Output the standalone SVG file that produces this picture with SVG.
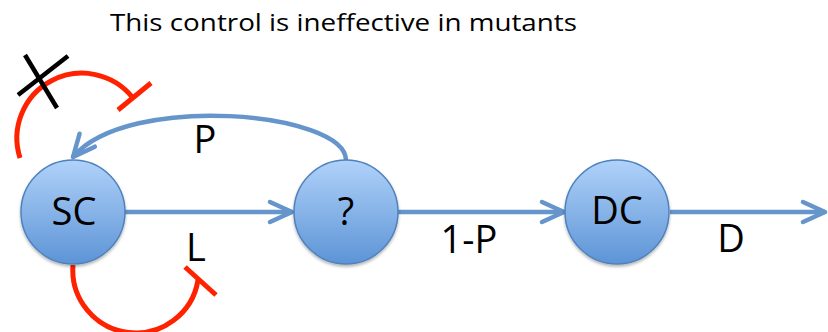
<svg xmlns="http://www.w3.org/2000/svg" width="828" height="332" viewBox="0 0 828 332">
  <style>
    .txt { font-family: "Open Sans", "Liberation Sans", sans-serif; fill: #000; }
    .lbl { font-size: 38px; text-anchor: middle; }
    .node circle { fill: url(#nodeFill); stroke: #4f82bd; stroke-width: 1.5; filter: url(#soft); }
    .flow { fill: none; stroke: #6595cb; stroke-width: 4.5; }
    .inhib { fill: none; stroke: #ff2200; stroke-width: 5; }
    .cross { stroke: #000; stroke-width: 4.5; }
  </style>
  <defs>
    <linearGradient id="nodeFill" x1="0" y1="0" x2="0" y2="1">
      <stop offset="0" stop-color="#b0d2fa"/>
      <stop offset="1" stop-color="#5d94d6"/>
    </linearGradient>
    <filter id="soft" x="-20%" y="-20%" width="140%" height="150%">
      <feDropShadow dx="0" dy="2" stdDeviation="1.5" flood-color="#000" flood-opacity="0.3"/>
    </filter>
    <marker id="chevron" markerUnits="userSpaceOnUse" viewBox="-26 -14 30 28" refX="0" refY="0" markerWidth="30" markerHeight="28" orient="auto">
      <path d="M -22 -10 L 0 0 L -22 10" fill="none" stroke="#6595cb" stroke-width="4.5" stroke-linecap="round" stroke-linejoin="round"/>
    </marker>
  </defs>

  <text class="txt" x="110" y="31" font-size="24" textLength="467" lengthAdjust="spacingAndGlyphs">This control is ineffective in mutants</text>

  <g id="connectors">
    <line class="flow" x1="125" y1="212" x2="292" y2="212" marker-end="url(#chevron)"/>
    <line class="flow" x1="398" y1="212" x2="564" y2="212" marker-end="url(#chevron)"/>
    <line class="flow" x1="670" y1="212" x2="825" y2="212" marker-end="url(#chevron)"/>
    <path class="flow" d="M 346 160 C 345 112, 128 92, 73 157" marker-end="url(#chevron)"/>
    <!-- self-inhibition loops on SC -->
    <path class="inhib" d="M 20 158 A 65 65 0 0 1 133 98"/>
    <line class="inhib" x1="118" y1="110" x2="151" y2="83"/>
    <path class="inhib" d="M 73 265 A 63 63 0 0 0 198 280"/>
    <line class="inhib" x1="185" y1="267" x2="216" y2="295"/>
    <!-- cross over the upper loop -->
    <line class="cross" x1="25" y1="55" x2="57" y2="108"/>
    <line class="cross" x1="68" y1="56" x2="18" y2="95"/>
  </g>

  <g id="node-sc" class="node">
    <circle cx="73" cy="212" r="52"/>
    <text class="txt lbl" x="74" y="225">SC</text>
  </g>
  <g id="node-q" class="node">
    <circle cx="346" cy="212" r="52"/>
    <text class="txt lbl" x="346" y="225">?</text>
  </g>
  <g id="node-dc" class="node">
    <circle cx="617" cy="212" r="52"/>
    <text class="txt lbl" x="617" y="224">DC</text>
  </g>

  <g id="edge-labels">
    <text class="txt lbl" x="205" y="153">P</text>
    <text class="txt lbl" x="196" y="261">L</text>
    <text class="txt lbl" x="469" y="253">1-P</text>
    <text class="txt lbl" x="731" y="252">D</text>
  </g>
</svg>
